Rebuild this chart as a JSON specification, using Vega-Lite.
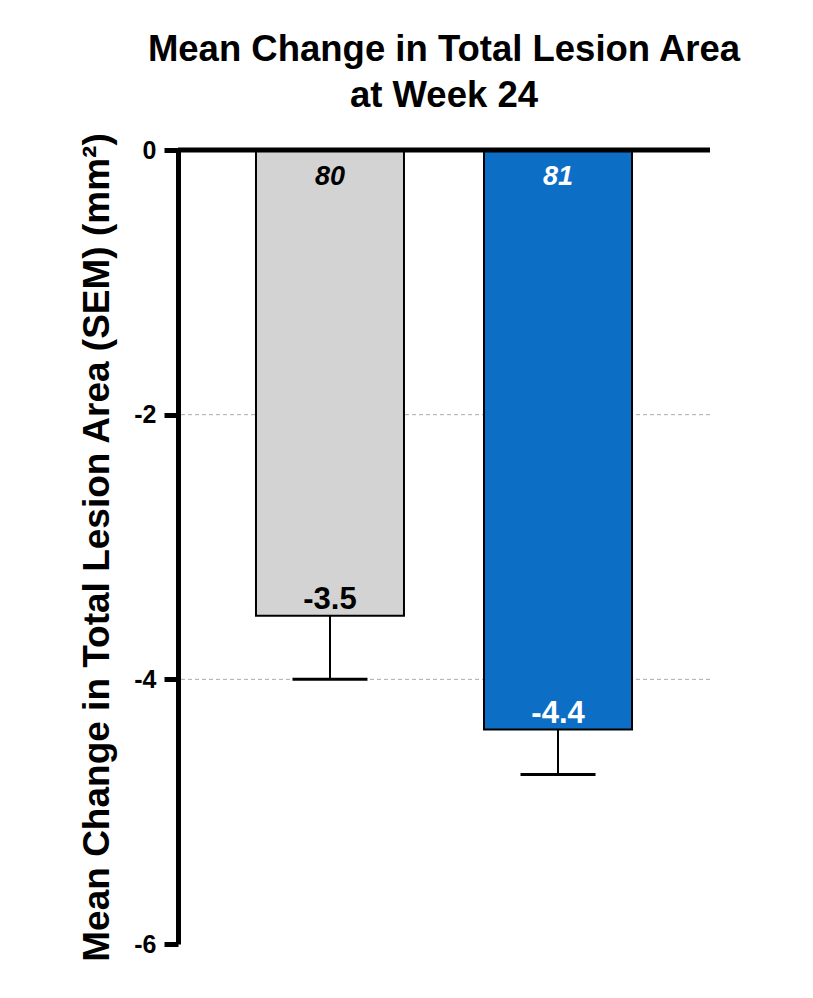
{
  "$schema": "https://vega.github.io/schema/vega-lite/v6.json",
  "width": 532,
  "height": 794,
  "autosize": "none",
  "padding": {"left": 178, "top": 150, "right": 103, "bottom": 54},
  "background": "white",
  "config": {"font": "Liberation Sans", "view": {"stroke": null}},
  "title": {
    "text": ["Mean Change in Total Lesion Area", "at Week 24"],
    "fontSize": 36.5,
    "fontWeight": "bold",
    "color": "black",
    "anchor": "middle",
    "lineHeight": 46,
    "offset": 18,
    "font": "Liberation Sans"
  },
  "datasets": {
    "bars": [
      {"group": "Placebo", "n": "80", "mean": -3.52, "lower": -4.0, "label": "-3.5"},
      {"group": "Treatment", "n": "81", "mean": -4.38, "lower": -4.72, "label": "-4.4"}
    ],
    "grid": [{"v": -2}, {"v": -4}],
    "zero": [{"v": 0}]
  },
  "layer": [
    {
      "data": {"name": "grid"},
      "mark": {"type": "rule", "color": "#aaaaaa", "strokeWidth": 1, "strokeDash": [4, 3]},
      "encoding": {
        "y": {
          "field": "v",
          "type": "quantitative",
          "scale": {"domain": [-6, 0], "nice": false, "zero": false},
          "axis": {
            "values": [0, -2, -4, -6],
            "labelExpr": "datum.value == 0 ? '0' : '-' + abs(datum.value)",
            "grid": false,
            "domainWidth": 5,
            "domainColor": "black",
            "tickWidth": 5,
            "tickSize": 14,
            "tickColor": "black",
            "labelFontSize": 25,
            "labelFontWeight": "bold",
            "labelColor": "black",
            "labelPadding": 8,
            "title": "Mean Change in Total Lesion Area (SEM) (mm²)",
            "titleFontSize": 37,
            "titleFontWeight": "bold",
            "titleColor": "black",
            "titlePadding": 17
          }
        }
      }
    },
    {
      "data": {"name": "bars"},
      "mark": {"type": "rule", "color": "black", "strokeWidth": 2},
      "encoding": {
        "x": {"field": "group", "type": "nominal", "scale": {"paddingInner": 0.351, "paddingOuter": 0.342}, "axis": null},
        "y": {"field": "mean", "type": "quantitative"},
        "y2": {"field": "lower"}
      }
    },
    {
      "data": {"name": "bars"},
      "mark": {"type": "tick", "color": "black", "size": 75, "thickness": 3, "opacity": 1},
      "encoding": {
        "x": {"field": "group", "type": "nominal", "axis": null},
        "y": {"field": "lower", "type": "quantitative"}
      }
    },
    {
      "data": {"name": "bars"},
      "mark": {"type": "bar", "stroke": "black", "strokeWidth": 2},
      "encoding": {
        "x": {"field": "group", "type": "nominal", "axis": null},
        "y": {"field": "mean", "type": "quantitative"},
        "y2": {"datum": 0},
        "fill": {"field": "group", "type": "nominal", "scale": {"range": ["#d3d3d3", "#0d6ec6"]}, "legend": null}
      }
    },
    {
      "data": {"name": "zero"},
      "mark": {"type": "rule", "color": "black", "strokeWidth": 5},
      "encoding": {"y": {"field": "v", "type": "quantitative"}}
    },
    {
      "data": {"name": "bars"},
      "mark": {"type": "text", "fontSize": 27, "fontStyle": "italic", "fontWeight": "bold", "baseline": "middle", "dy": 27},
      "encoding": {
        "x": {"field": "group", "type": "nominal", "axis": null},
        "y": {"datum": 0},
        "text": {"field": "n"},
        "color": {"field": "group", "type": "nominal", "scale": {"range": ["black", "white"]}, "legend": null}
      }
    },
    {
      "data": {"name": "bars"},
      "mark": {"type": "text", "fontSize": 31, "fontWeight": "bold", "baseline": "alphabetic", "dy": -7},
      "encoding": {
        "x": {"field": "group", "type": "nominal", "axis": null},
        "y": {"field": "mean", "type": "quantitative"},
        "text": {"field": "label"},
        "color": {"field": "group", "type": "nominal", "scale": {"range": ["black", "white"]}, "legend": null}
      }
    }
  ]
}
